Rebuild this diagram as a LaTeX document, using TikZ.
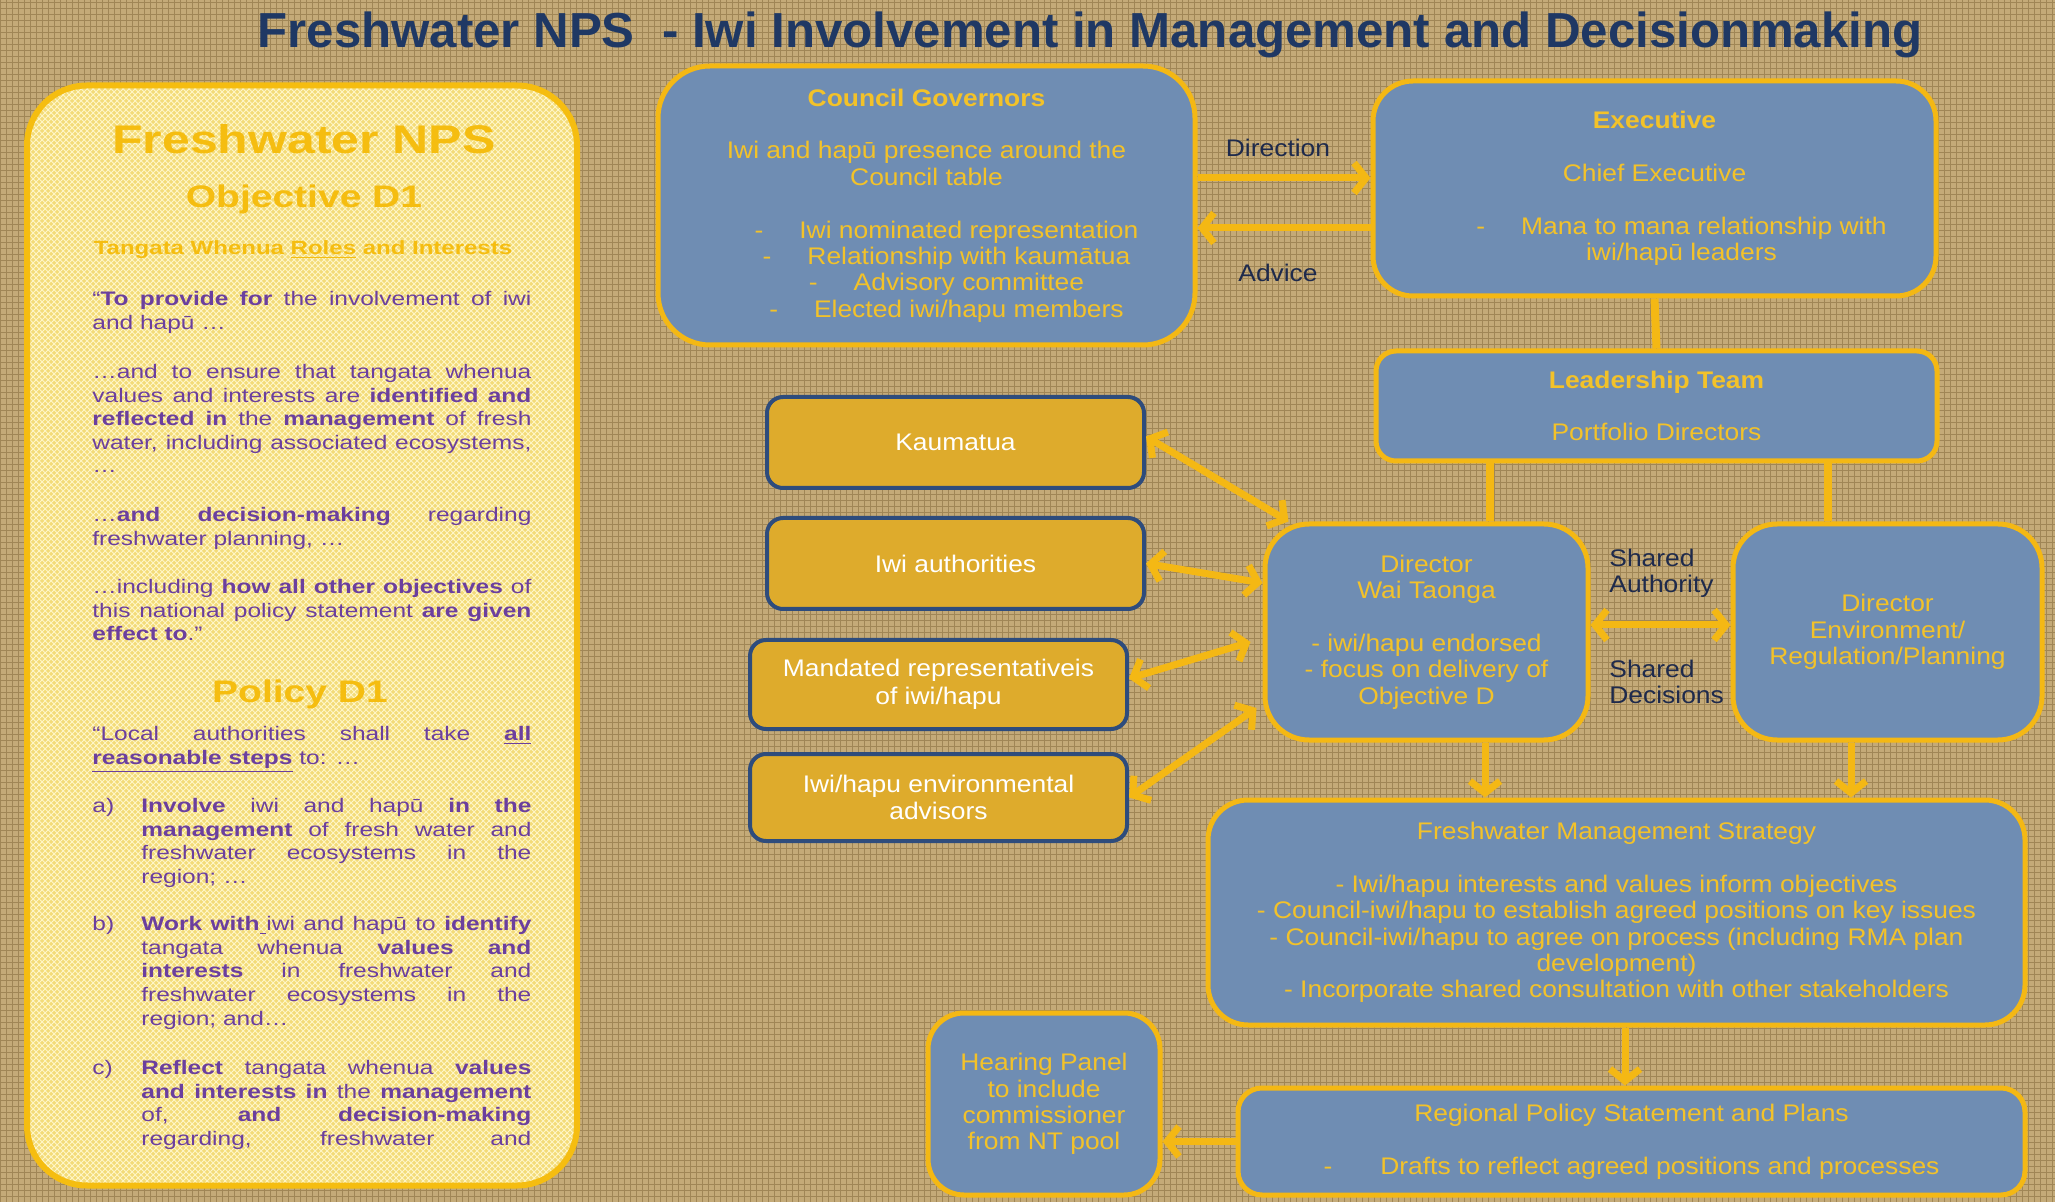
\documentclass[tikz,border=0pt]{standalone}
\usepackage{fontspec}
\setmainfont{Liberation Sans}
\newfontfamily\panelfont[FakeStretch=1.25]{Liberation Sans}
\newfontfamily\boxfont[FakeStretch=1.1]{Liberation Sans}
\usetikzlibrary{positioning,arrows.meta,patterns}

\definecolor{burlap}{HTML}{C4AA78}
\definecolor{burlapdark}{HTML}{A08656}
\definecolor{panelfill}{HTML}{F3DB78}
\definecolor{panelweave}{HTML}{FFF6C8}
\definecolor{panelgold}{HTML}{F5BD10}
\definecolor{panelpurple}{HTML}{6B3F9E}
\definecolor{boxblue}{HTML}{6F8DB3}
\definecolor{boxgold}{HTML}{F4B814}
\definecolor{boxtext}{HTML}{F3C229}
\definecolor{boxyellow}{HTML}{DEAB2C}
\definecolor{boxnavy}{HTML}{2E4C7C}
\definecolor{titlenavy}{HTML}{1F3864}
\definecolor{labelnavy}{HTML}{1E2A4C}

\begin{document}
\begin{tikzpicture}[x=0.5pt,y=-0.5pt,
  bluebox/.style={draw=boxgold, line width=2.5pt, fill=boxblue, rounded corners=#1,
    text=boxtext, font=\boxfont\fontsize{12}{13.2}\selectfont, align=center, inner sep=2pt},
  bluebox/.default=20pt,
  ybox/.style={draw=boxnavy, line width=2pt, fill=boxyellow, rounded corners=8pt,
    text=white, font=\boxfont\fontsize{12}{13.8}\selectfont, align=center,
    minimum width=188.5pt},
  lbl/.style={text=labelnavy, font=\boxfont\fontsize{12}{13.2}\selectfont, inner sep=0pt},
  phead/.style={text=panelgold, font=\panelfont\bfseries\fontsize{#1}{#1}\selectfont},
  ptext/.style={text=panelpurple, font=\panelfont\fontsize{9.8}{11.8}\selectfont,
    inner sep=0pt, anchor=north west, text width=#1, align=justify},
  ptext/.default=219.5pt,
  arr/.style={draw=boxgold, line width=3.5pt, -{Straight Barb[length=6pt,width=15pt]}},
  darr/.style={arr, {Straight Barb[length=6pt,width=15pt]}-{Straight Barb[length=6pt,width=15pt]}},
  link/.style={draw=boxgold, line width=4pt}]

\useasboundingbox (0,0) rectangle (2055,1202);

% Burlap background
\fill[burlap] (0,0) rectangle (2055,1202);
\fill[pattern=grid, pattern color=burlapdark] (0,0) rectangle (2055,1202);

% Title
\node[font=\bfseries\fontsize{24.6}{30}\selectfont, text=titlenavy] (title) at (1090,35)
  {Freshwater NPS \ - Iwi Involvement in Management and Decisionmaking};

% Left panel = NPS objective and policy text
\node[draw=panelgold, line width=3pt, preaction={fill=panelfill},
  preaction={pattern=crosshatch, pattern color=panelweave}, rounded corners=30pt,
  minimum width=275pt, minimum height=550pt, inner sep=0pt] (panel) at (302,635.5) {};

\node[phead=20] (nps) at (304,139) {Freshwater NPS};
\node[phead=15.6] (objd) at (304,199) {Objective D1};
\node[phead=9.6] (roles) at (303,250) {Tangata Whenua \underline{Roles} and Interests};

\node[ptext] (pa) at (92,291) {“\textbf{To provide for} the involvement of iwi\linebreak
  and hapū …};
\node[ptext] (pb) at (92,364) {…and to ensure that tangata whenua\linebreak
  values and interests are \textbf{identified and}\linebreak
  \textbf{reflected in} the \textbf{management} of fresh\linebreak
  water, including associated ecosystems,\linebreak …};
\node[ptext] (pc) at (92,507) {…\textbf{and decision-making} regarding\linebreak
  freshwater planning, …};
\node[ptext] (pd) at (92,579) {…including \textbf{how all other objectives} of\linebreak
  this national policy statement \textbf{are given}\linebreak \textbf{effect to}.”};

\node[phead=15.6] (poldone) at (300,694) {Policy D1};

\node[ptext] (pe) at (92,726) {“Local authorities shall take \underline{\textbf{all}}\linebreak
  \underline{\textbf{reasonable steps}} to: …};

% lettered items
\node[ptext=20pt] (ia) at (92,798) {a)};
\node[ptext=195pt] (pia) at (141,798) {\textbf{Involve} iwi and hapū \textbf{in the}\linebreak
  \textbf{management} of fresh water and\linebreak
  freshwater ecosystems in the\linebreak region; …};
\node[ptext=20pt] (ib) at (92,916) {b)};
\node[ptext=195pt] (pib) at (141,916) {\textbf{Work with}\underline{\ }iwi and hapū to \textbf{identify}\linebreak
  tangata whenua \textbf{values and}\linebreak
  \textbf{interests} in freshwater and\linebreak
  freshwater ecosystems in the\linebreak region; and…};
\node[ptext=20pt] (ic) at (92,1060) {c)};
\node[ptext=195pt] (pic) at (141,1060) {\textbf{Reflect} tangata whenua \textbf{values}\linebreak
  \textbf{and interests in} the \textbf{management}\linebreak
  of, \textbf{and decision-making}\linebreak
  regarding, freshwater and\linebreak\null};

% Council and executive
\node[bluebox=26pt, minimum width=268.5pt, minimum height=139.5pt] (council) at (926.5,205.5)
  {\textbf{Council Governors}\\[13.2pt]
   Iwi and hapū presence around the\\ Council table\\[13.2pt]
   \hspace*{20pt}-\hspace{18pt}Iwi nominated representation\\
   \hspace*{20pt}-\hspace{18pt}Relationship with kaumātua\\
   \hspace*{20pt}-\hspace{18pt}Advisory committee\\
   \hspace*{20pt}-\hspace{18pt}Elected iwi/hapu members};

\node[bluebox, minimum width=281.5pt, minimum height=107.5pt] (exec) at (1654.5,188.5)
  {\textbf{Executive}\\[13.2pt]
   Chief Executive\\[13.2pt]
   \hspace*{27pt}-\hspace{18pt}Mana to mana relationship with\\
   \hspace*{27pt}iwi/hapū leaders};

\node[bluebox=10pt, minimum width=280.5pt, minimum height=55pt] (leader) at (1656.5,406)
  {\textbf{Leadership Team}\\[13.2pt] Portfolio Directors};

% Directors
\node[bluebox=22pt, minimum width=161.5pt, minimum height=108pt] (wai) at (1426.5,632)
  {Director\\ Wai Taonga\\[13.2pt] - iwi/hapu endorsed\\ - focus on delivery of\\ Objective D};
\node[bluebox=22pt, minimum width=154.5pt, minimum height=108pt] (env) at (1887.5,632)
  {Director\\ Environment/\\ Regulation/Planning};

% Strategy, plans and hearing panel
\node[bluebox, minimum width=408.5pt, minimum height=112.5pt] (fms) at (1616.5,912.5)
  {Freshwater Management Strategy\\[13.2pt]
   - Iwi/hapu interests and values inform objectives\\
   - Council-iwi/hapu to establish agreed positions on key issues\\
   - Council-iwi/hapu to agree on process (including RMA plan\\
   development)\\
   - Incorporate shared consultation with other stakeholders};
\node[bluebox=12pt, minimum width=393.5pt, minimum height=53.5pt] (rps) at (1631.5,1141.5)
  {Regional Policy Statement and Plans\\[13.2pt]
   -\hspace{24pt}Drafts to reflect agreed positions and processes};
\node[bluebox=18pt, minimum width=116pt, minimum height=91pt] (hear) at (1044,1104)
  {Hearing Panel\\ to include\\ commissioner\\ from NT pool};

% Iwi / hapu groups
\node[ybox, minimum height=45.5pt] (kaum) at (955.5,442.5) {Kaumatua};
\node[ybox, minimum height=45.5pt] (iwiauth) at (955.5,563.5) {Iwi authorities};
\node[ybox, minimum height=44.5pt] (mand) at (938.5,684.5) {Mandated representativeis\\ of iwi/hapu};
\node[ybox, minimum height=43.5pt] (advis) at (938.5,797.5) {Iwi/hapu environmental\\ advisors};

% Direction / advice
\coordinate (dirA) at ([yshift=13.75pt]council.east);
\coordinate (advA) at ([yshift=-11.25pt]council.east);
\draw[arr] (dirA) -- (dirA -| exec.west);
\draw[arr] (advA -| exec.west) -- (advA);
\node[lbl] (dirlbl) at (1278,148) {Direction};
\node[lbl] (advlbl) at (1278,273) {Advice};

% Executive down to leadership and directors
\draw[link] (exec.south) -- (leader.north);
\coordinate (ldA) at ([xshift=31.75pt]wai.north);
\coordinate (ldB) at ([xshift=-29.75pt]env.north);
\draw[link] (ldA) -- (ldA |- leader.south);
\draw[link] (ldB) -- (ldB |- leader.south);

% Shared authority between directors
\coordinate (shA) at ([yshift=3.5pt]wai.east);
\draw[darr] (shA) -- (shA -| env.west);
\node[lbl, align=left, anchor=west] (authlbl) at (1609,573) {Shared\\Authority};
\node[lbl, align=left, anchor=west] (declbl) at (1609,682) {Shared\\Decisions};

% Flow down into strategy and plans
\coordinate (dnA) at ([xshift=29.25pt]wai.south);
\coordinate (dnB) at ([xshift=-18.25pt]env.south);
\coordinate (dnC) at ([xshift=4.25pt]fms.south);
\draw[arr] (dnA) -- (dnA |- fms.north);
\draw[arr] (dnB) -- (dnB |- fms.north);
\draw[arr] (dnC) -- (dnC |- rps.north);
\draw[arr] (rps.west) -- (rps.west -| hear.east);

% Groups to Director Wai Taonga
\draw[darr] ([yshift=3pt]kaum.east) -- ([xshift=13pt]wai.north west);
\draw[darr] (iwiauth.east) -- ([yshift=24.5pt]wai.west);
\draw[darr] ([yshift=3pt]mand.east) -- ([xshift=-6pt,yshift=-5pt]wai.west);
\draw[darr] (advis.east) -- ([xshift=-3pt,yshift=-38pt]wai.west);

\end{tikzpicture}
\end{document}
